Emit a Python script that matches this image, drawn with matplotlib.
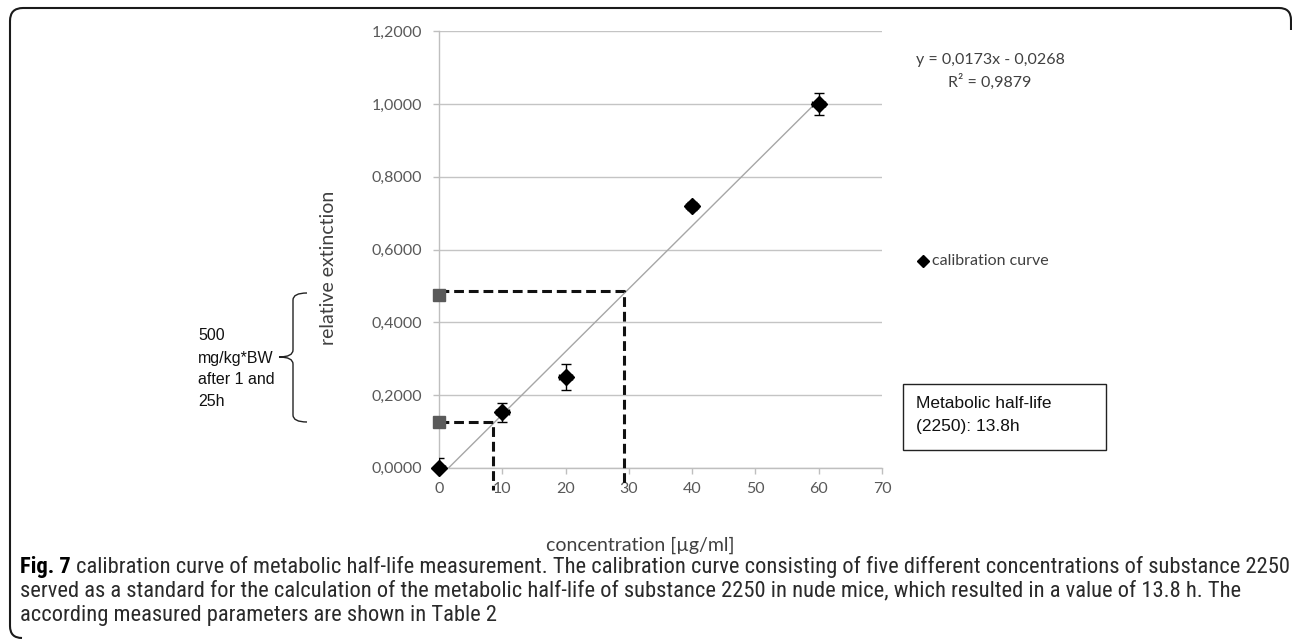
import numpy as np
import matplotlib
matplotlib.use("Agg")
import matplotlib.pyplot as plt
from matplotlib import font_manager
from matplotlib.path import Path
from matplotlib.patches import PathPatch, Rectangle
from matplotlib.lines import Line2D

#===== DATA =======================================#
conc = [0, 10, 20, 40, 60]
extinction = [0.0, 0.152, 0.250, 0.720, 1.000]
ext_err = [0.027, 0.025, 0.035, 0.010, 0.030]
conc_err = [1.0, 1.0, 1.0, 1.0, 1.0]

fit_slope = 0.0173
fit_intercept = -0.0268
fit_range = [0, 60]

# measured samples (1 h and 25 h) read back on the curve
sample_ext = [0.475, 0.125]
sample_guide_y = [0.486, 0.125]
sample_conc = [29.3, 8.6]
sample_guide_end = [-0.045, -0.06]

xticks = [0, 10, 20, 30, 40, 50, 60, 70]
yticks = [0.0, 0.2, 0.4, 0.6, 0.8, 1.0, 1.2]

eq_lines = ["y = 0,0173x - 0,0268", "R² = 0,9879"]
legend_label = "calibration curve"
note_lines = ["500", "mg/kg*BW", "after 1 and", "25h"]
box_lines = ["Metabolic half-life", "(2250): 13.8h"]
xlabel = "concentration [µg/ml]"
ylabel = "relative extinction"
cap_bold = "Fig. 7"
cap_lines = [
    "calibration curve of metabolic half-life measurement. The calibration curve consisting of five different concentrations of substance 2250",
    "served as a standard for the calculation of the metabolic half-life of substance 2250 in nude mice, which resulted in a value of 13.8 h. The",
    "according measured parameters are shown in Table 2",
]

#===== SETUP ======================================#
W, H = 1292, 639
def fx(x):
    return x / W
def fy(y):
    return 1 - y / H

names = {f.name for f in font_manager.fontManager.ttflist}
def pick(*cands):
    for c in cands:
        if c in names:
            return c
    return "DejaVu Sans"

chart_font = pick("Lato", "Open Sans")
arial_font = pick("Liberation Sans", "Arimo")
cap_font = pick("Liberation Sans Narrow", "DejaVu Sans Condensed", "Roboto Condensed",
                "Open Sans Condensed", "Roboto")

fig = plt.figure(figsize=(W / 100, H / 100), dpi=100)
renderer = fig.canvas.get_renderer()

ax_l, ax_r, ax_t, ax_b = 439, 882, 31.4, 467.7
ax = fig.add_axes([fx(ax_l), fy(ax_b), fx(ax_r - ax_l), (ax_b - ax_t) / H])
ax.set_xlim(0, 70)
ax.set_ylim(0, 1.2)

for s in ["top", "right"]:
    ax.spines[s].set_visible(False)
for s in ["left", "bottom"]:
    ax.spines[s].set_color("#bfbfbf")
    ax.spines[s].set_linewidth(1)

ax.set_xticks(xticks)
ax.set_yticks(yticks)
ax.set_yticklabels([f"{v:.4f}".replace(".", ",") for v in yticks])
ax.tick_params(axis="both", direction="out", length=4, width=1, color="#bfbfbf",
               labelcolor="#595959", labelsize=11.5)
ax.tick_params(axis="y", pad=8)
ax.tick_params(axis="x", pad=6)
for lab in ax.get_xticklabels() + ax.get_yticklabels():
    lab.set_fontfamily(chart_font)
ax.grid(axis="y", color="#c4c4c4", linewidth=1)
ax.set_axisbelow(True)

#===== PLOT =======================================#
xf = np.array(fit_range)
ax.plot(xf, fit_slope * xf + fit_intercept, color="#a6a6a6", lw=1, zorder=2)

# dashed read-off guides
for ye, yg, xs, yend in zip(sample_ext, sample_guide_y, sample_conc, sample_guide_end):
    ax.plot([0, xs, xs], [yg, yg, yend], color="#111111", lw=2.2,
            dashes=(3.2, 1.6), clip_on=False, zorder=3)

ax.errorbar(conc, extinction, yerr=ext_err, fmt="none", ecolor="black",
            elinewidth=1, capsize=3.5, capthick=1, zorder=4)
ax.errorbar(conc, extinction, xerr=conc_err, fmt="none", ecolor="black",
            elinewidth=1, capsize=2, capthick=1, zorder=4)
ax.plot(conc, extinction, "D", color="black", ms=8, zorder=5, clip_on=False)
ax.plot([0] * len(sample_ext), sample_ext, "s", color="#5a5a5a", ms=8,
        zorder=6, clip_on=False)

#===== TEXTS ======================================#
for i, t in enumerate(eq_lines):
    fig.text(fx(990), fy(60 + 22 * i), t, ha="center", va="center",
             family=chart_font, fontsize=11.5, color="#404040")

fig.add_artist(Line2D([fx(923)], [fy(261)], marker="D", ms=6.5, color="black",
                      transform=fig.transFigure))
fig.text(fx(932), fy(261), legend_label, ha="left", va="center",
         family=chart_font, fontsize=11.5, color="#404040")

fig.text(fx(328), fy(268), ylabel, rotation=90, ha="center", va="center",
         family=chart_font, fontsize=14, color="#404040")
fig.text(fx(640), fy(545), xlabel, ha="center", va="center",
         family=chart_font, fontsize=14, color="#404040")

for i, t in enumerate(note_lines):
    fig.text(fx(198), fy(336 + 22 * i), t, ha="left", va="center",
             family=arial_font, fontsize=11.5, color="#111111")

fig.add_artist(Rectangle((fx(903), fy(450)), fx(1106 - 903), (450 - 384) / H,
                         transform=fig.transFigure, fill=False,
                         edgecolor="#222222", lw=1))
for i, t in enumerate(box_lines):
    fig.text(fx(916), fy(403 + 24 * i), t, ha="left", va="center",
             family=arial_font, fontsize=12.5, color="#111111")

# curly brace
bp = [(307, 293), (293, 293), (293, 300), (293, 350), (293, 357), (279, 357),
      (293, 357), (293, 364), (293, 415), (293, 422), (307, 422)]
bc = [Path.MOVETO, Path.CURVE3, Path.CURVE3, Path.LINETO, Path.CURVE3, Path.CURVE3,
      Path.CURVE3, Path.CURVE3, Path.LINETO, Path.CURVE3, Path.CURVE3]
fig.add_artist(PathPatch(Path([(fx(x), fy(y)) for x, y in bp], bc),
                         transform=fig.transFigure, fill=False,
                         edgecolor="#222222", lw=1))

# frame around figure
fp = [(22, 638), (10, 638), (10, 626), (10, 21), (10, 8), (23, 8),
      (1279, 8), (1291, 8), (1291, 20), (1291, 30)]
fc = [Path.MOVETO, Path.CURVE3, Path.CURVE3, Path.LINETO, Path.CURVE3, Path.CURVE3,
      Path.LINETO, Path.CURVE3, Path.CURVE3, Path.LINETO]
fig.add_artist(PathPatch(Path([(fx(x), fy(y)) for x, y in fp], fc),
                         transform=fig.transFigure, fill=False,
                         edgecolor="#1a1a1a", lw=1.5))

#===== CAPTION ====================================#
cap_x0, cap_x1 = 20, 1281
cap_y = [567, 591, 615]
fs = 12.0
for _ in range(3):
    tb = fig.text(0, 0, cap_bold + " ", family=cap_font, fontsize=fs, weight="bold")
    tr = fig.text(0, 0, cap_lines[0], family=cap_font, fontsize=fs)
    wb = tb.get_window_extent(renderer).width
    wr = tr.get_window_extent(renderer).width
    tb.remove()
    tr.remove()
    fs = fs * (cap_x1 - cap_x0) / (wb + wr)

tb = fig.text(fx(cap_x0), fy(cap_y[0]), cap_bold + " ", family=cap_font,
              fontsize=fs, weight="bold", color="black", va="center")
wb = tb.get_window_extent(renderer).width
for i, t in enumerate(cap_lines):
    x0 = cap_x0 + (wb if i == 0 else 0)
    fig.text(fx(x0), fy(cap_y[i]), t, family=cap_font, fontsize=fs,
             color="#2a2a2a", va="center")

fig.savefig("out.png", dpi=100)
